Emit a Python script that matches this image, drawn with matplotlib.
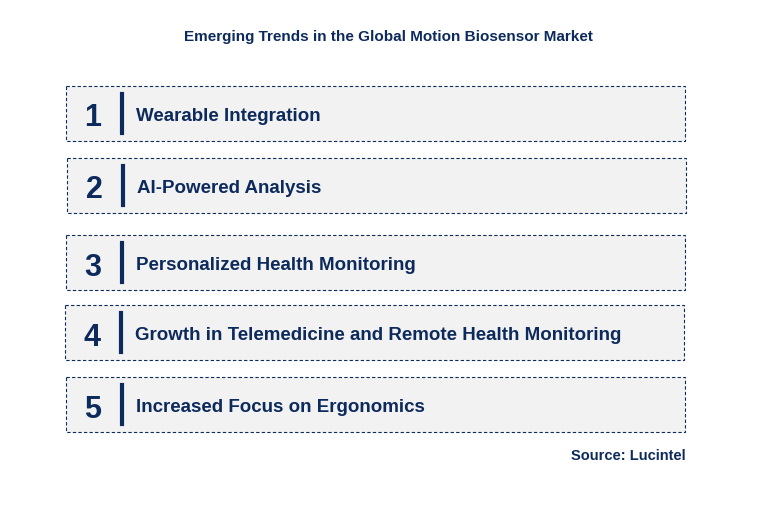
import matplotlib
matplotlib.use("Agg")
import matplotlib.pyplot as plt
from matplotlib.patches import Rectangle

title = "Emerging Trends in the Global Motion Biosensor Market"
numbers = ["1", "2", "3", "4", "5"]
trends = ["Wearable Integration", "AI-Powered Analysis", "Personalized Health Monitoring",
          "Growth in Telemedicine and Remote Health Monitoring", "Increased Focus on Ergonomics"]
source = "Source: Lucintel"

box_x = [66, 67, 66, 65, 66]
box_y = [86, 158, 235, 305, 377]
box_w = 619
box_h = 55
navy = "#0d2a5c"

fig = plt.figure(figsize=(7.76, 5.27), dpi=100)
ax = fig.add_axes([0, 0, 1, 1])
ax.set_xlim(0, 776)
ax.set_ylim(527, 0)
ax.axis("off")

ax.text(388, 37, title, ha="center", va="center", fontsize=11, fontweight="bold",
        color=navy, family="Liberation Sans")
for x, y, n, t in zip(box_x, box_y, numbers, trends):
    ax.add_patch(Rectangle((x, y), box_w, box_h, facecolor="#f2f2f2", edgecolor=navy,
                           linestyle=(0, (3, 2)), linewidth=0.8))
    cy = y + box_h / 2
    ax.text(x + 27, cy + 5, n, ha="center", va="center", fontsize=22, fontweight="bold",
            color=navy, family="Liberation Sans")
    ax.plot([x + 56, x + 56], [y + 8, y + box_h - 8], color=navy, linewidth=3)
    ax.text(x + 70, cy + 3, t, ha="left", va="center", fontsize=13.5, fontweight="bold",
            color=navy, family="Liberation Sans")
ax.text(686, 456, source, ha="right", va="center", fontsize=10.5, fontweight="bold",
        color=navy, family="Liberation Sans")
fig.savefig("out.png", dpi=100)
